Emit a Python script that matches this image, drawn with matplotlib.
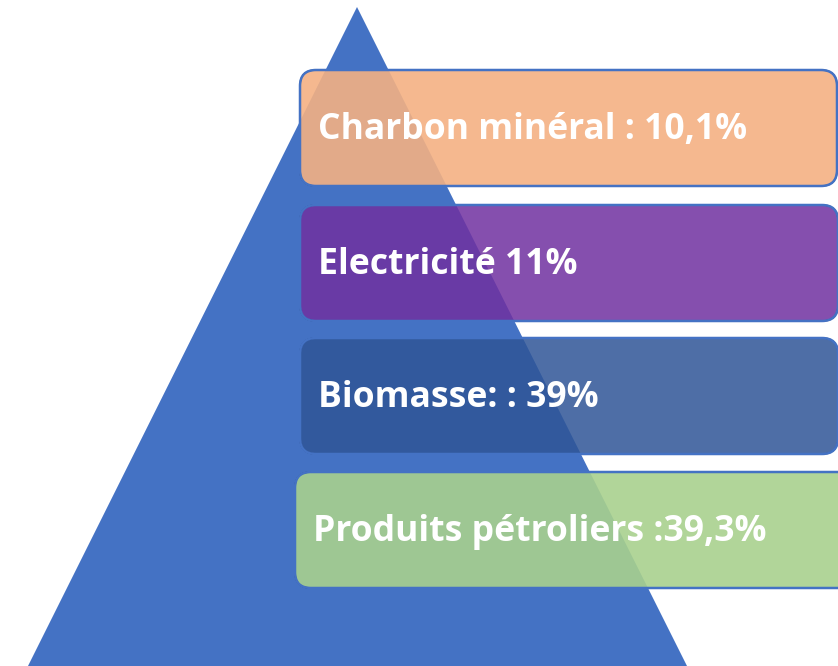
import matplotlib.pyplot as plt
from matplotlib.patches import Polygon, FancyBboxPatch

# pyramid layers, top to bottom
labels = ["Charbon minéral : 10,1%", "Electricité 11%", "Biomasse: : 39%", "Produits pétroliers :39,3%"]
shares = [10.1, 11.0, 39.0, 39.3]
colors = ["#F4B183", "#7030A0", "#2F5597", "#A9D18E"]
alphas = [0.9, 0.85, 0.85, 0.9]

# box geometry in pixels (left, top, right, height)
box_left = [300, 300, 300, 295]
box_top = [70, 205, 338, 472]
box_right = [837, 838, 838, 855]
box_h = 116

fig = plt.figure(figsize=(8.38, 6.66), dpi=100)
ax = fig.add_axes([0, 0, 1, 1])
ax.set_xlim(0, 838)
ax.set_ylim(666, 0)
ax.axis("off")

# the big triangle
tri = Polygon([(357, 7), (28, 666), (687, 666)], closed=True, facecolor="#4472C4", edgecolor="none")
ax.add_patch(tri)

for i, lab in enumerate(labels):
    box = FancyBboxPatch((box_left[i], box_top[i]), box_right[i] - box_left[i], box_h,
                         boxstyle="round,pad=0,rounding_size=16",
                         facecolor=colors[i], alpha=alphas[i], clip_on=True)
    ax.add_patch(box)
    # thin outline drawn opaque on top of the translucent fill
    edge = FancyBboxPatch((box_left[i], box_top[i]), box_right[i] - box_left[i], box_h,
                          boxstyle="round,pad=0,rounding_size=16",
                          facecolor="none", edgecolor="#4472C4", linewidth=1.8)
    ax.add_patch(edge)
    ax.text(box_left[i] + 18, box_top[i] + box_h / 2 + 2, lab, color="white",
            fontsize=25.6, fontweight="bold", family="Open Sans",
            ha="left", va="center")

fig.savefig("out.png", dpi=100)
